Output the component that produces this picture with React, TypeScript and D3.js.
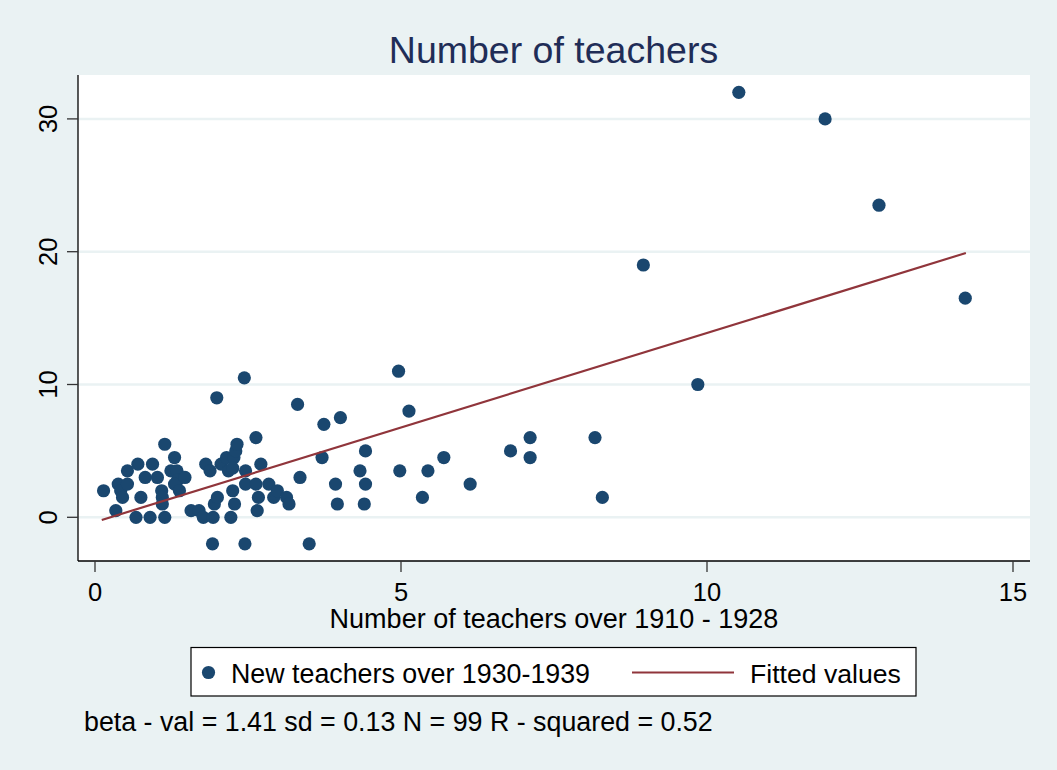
import React from 'react';
import * as d3 from 'd3';

// teachers 1910-1928 (x) vs new teachers 1930-1939 (y)
const oldTeachers = [
  0.14, 0.34, 0.38, 0.42, 0.45, 0.53, 0.53, 0.67, 0.7, 0.75, 0.82, 0.9, 0.94, 1.02, 1.09, 1.1, 1.1, 1.14, 1.14,
  1.24, 1.3, 1.34, 1.35, 1.3, 1.38, 1.47,
  1.57, 1.7, 1.77, 1.81, 1.88, 1.92, 1.93, 1.95, 2.0, 1.99, 2.06, 2.15, 2.18, 2.25, 2.22, 2.28, 2.27, 2.3, 2.32,
  2.25, 2.44, 2.45, 2.46, 2.46, 2.63, 2.63, 2.67, 2.65, 2.71, 2.84, 2.92, 2.98, 3.13, 3.17,
  3.31, 3.35, 3.5, 3.71, 3.74, 3.93, 3.96, 4.01, 4.33, 4.42, 4.42, 4.4, 4.96, 4.98, 5.13, 5.35, 5.44, 5.7,
  6.13, 6.79, 7.11, 7.11, 8.17, 8.29, 8.96, 9.85, 10.52, 11.93, 12.81, 14.22,
];
const newTeachers = [
  2.0, 0.5, 2.5, 2.0, 1.5, 2.5, 3.5, 0, 4.0, 1.5, 3.0, 0, 4.0, 3.0, 2.0, 1.5, 1.0, 0, 5.5,
  3.5, 4.5, 3.5, 2.8, 2.5, 2.0, 3.0,
  0.5, 0.5, 0, 4.0, 3.5, -2, 0, 1.0, 1.5, 9.0, 4.0, 4.5, 3.5, 2.0, 0, 1.0, 4.5, 5.0, 5.5,
  3.7, 10.5, -2, 3.5, 2.5, 6.0, 2.5, 1.5, 0.5, 4.0, 2.5, 1.5, 2.0, 1.5, 1.0,
  8.5, 3.0, -2, 4.5, 7.0, 2.5, 1.0, 7.5, 3.5, 5.0, 2.5, 1.0, 11.0, 3.5, 8.0, 1.5, 3.5, 4.5,
  2.5, 5.0, 6.0, 4.5, 6.0, 1.5, 19.0, 10.0, 32.0, 30.0, 23.5, 16.5,
];
// fitted line end points
const fitX = [0.11, 14.23];
const fitY = [-0.2, 19.9];

const xTicks = [0, 5, 10, 15];
const yTicks = [0, 10, 20, 30];

const BG = '#eaf2f3';
const NAVY = '#1a476f';
const MAROON = '#90353b';
const FONT = '"Liberation Sans", Arial, sans-serif';

const W = 1057;
const H = 770;
const PLOT = { left: 78, right: 1030, top: 75, bottom: 561 };

export default function App() {
  const x = d3.scaleLinear().domain([0, 15]).range([95, 1013]);
  const y = d3.scaleLinear().domain([0, 30]).range([517.3, 118.9]);

  const pts = oldTeachers.map((v, i) => [v, newTeachers[i]]);
  const fitLine = d3
    .line<number>()
    .x((d) => x(fitX[d]))
    .y((d) => y(fitY[d]));

  return (
    <svg
      width={W}
      height={H}
      style={{ position: 'absolute', left: 0, top: 0, display: 'block' }}
      fontFamily={FONT}
    >
      <rect x={0} y={0} width={W} height={H} fill={BG} />
      <rect
        x={PLOT.left}
        y={PLOT.top}
        width={PLOT.right - PLOT.left}
        height={PLOT.bottom - PLOT.top}
        fill="#fff"
      />

      {yTicks.map((t) => (
        <line key={'g' + t} x1={PLOT.left} x2={PLOT.right} y1={y(t)} y2={y(t)} stroke={BG} strokeWidth={2.5} />
      ))}

      <text x={553.5} y={63} textAnchor="middle" fontSize={37.5} fill="#1f2d57">
        Number of teachers
      </text>

      {pts.map(([a, b], i) => (
        <circle key={i} cx={x(a)} cy={y(b)} r={6.6} fill={NAVY} />
      ))}

      <path d={fitLine([0, 1]) ?? ''} fill="none" stroke={MAROON} strokeWidth={2.2} />

      {/* y axis */}
      <line x1={PLOT.left} x2={PLOT.left} y1={PLOT.top} y2={PLOT.bottom} stroke="#000" strokeWidth={1.3} />
      {yTicks.map((t) => (
        <g key={'y' + t}>
          <line x1={67} x2={PLOT.left} y1={y(t)} y2={y(t)} stroke="#333" strokeWidth={1.3} />
          <text transform={`translate(57,${y(t)}) rotate(-90)`} textAnchor="middle" fontSize={25.5} fill="#000">
            {t}
          </text>
        </g>
      ))}

      {/* x axis */}
      <line x1={PLOT.left} x2={PLOT.right} y1={PLOT.bottom} y2={PLOT.bottom} stroke="#000" strokeWidth={1.3} />
      {xTicks.map((t) => (
        <g key={'x' + t}>
          <line x1={x(t)} x2={x(t)} y1={PLOT.bottom} y2={572} stroke="#333" strokeWidth={1.3} />
          <text x={x(t)} y={601} textAnchor="middle" fontSize={25.5} fill="#000">
            {t}
          </text>
        </g>
      ))}
      <text x={554} y={628} textAnchor="middle" fontSize={27} fill="#000">
        Number of teachers over 1910 - 1928
      </text>

      {/* legend */}
      <rect x={191} y={647.5} width={725} height={48.5} fill="#fff" stroke="#000" strokeWidth={1.2} />
      <circle cx={208.5} cy={672.5} r={6.6} fill={NAVY} />
      <text x={231} y={682.5} fontSize={26.8} fill="#000">
        New teachers over 1930-1939
      </text>
      <line x1={632} x2={734} y1={672.5} y2={672.5} stroke={MAROON} strokeWidth={2.2} />
      <text x={750} y={682.5} fontSize={26.6} fill="#000">
        Fitted values
      </text>

      <text x={84} y={731} fontSize={26.8} fill="#000">
        beta - val = 1.41 sd = 0.13 N = 99 R - squared = 0.52
      </text>
    </svg>
  );
}
